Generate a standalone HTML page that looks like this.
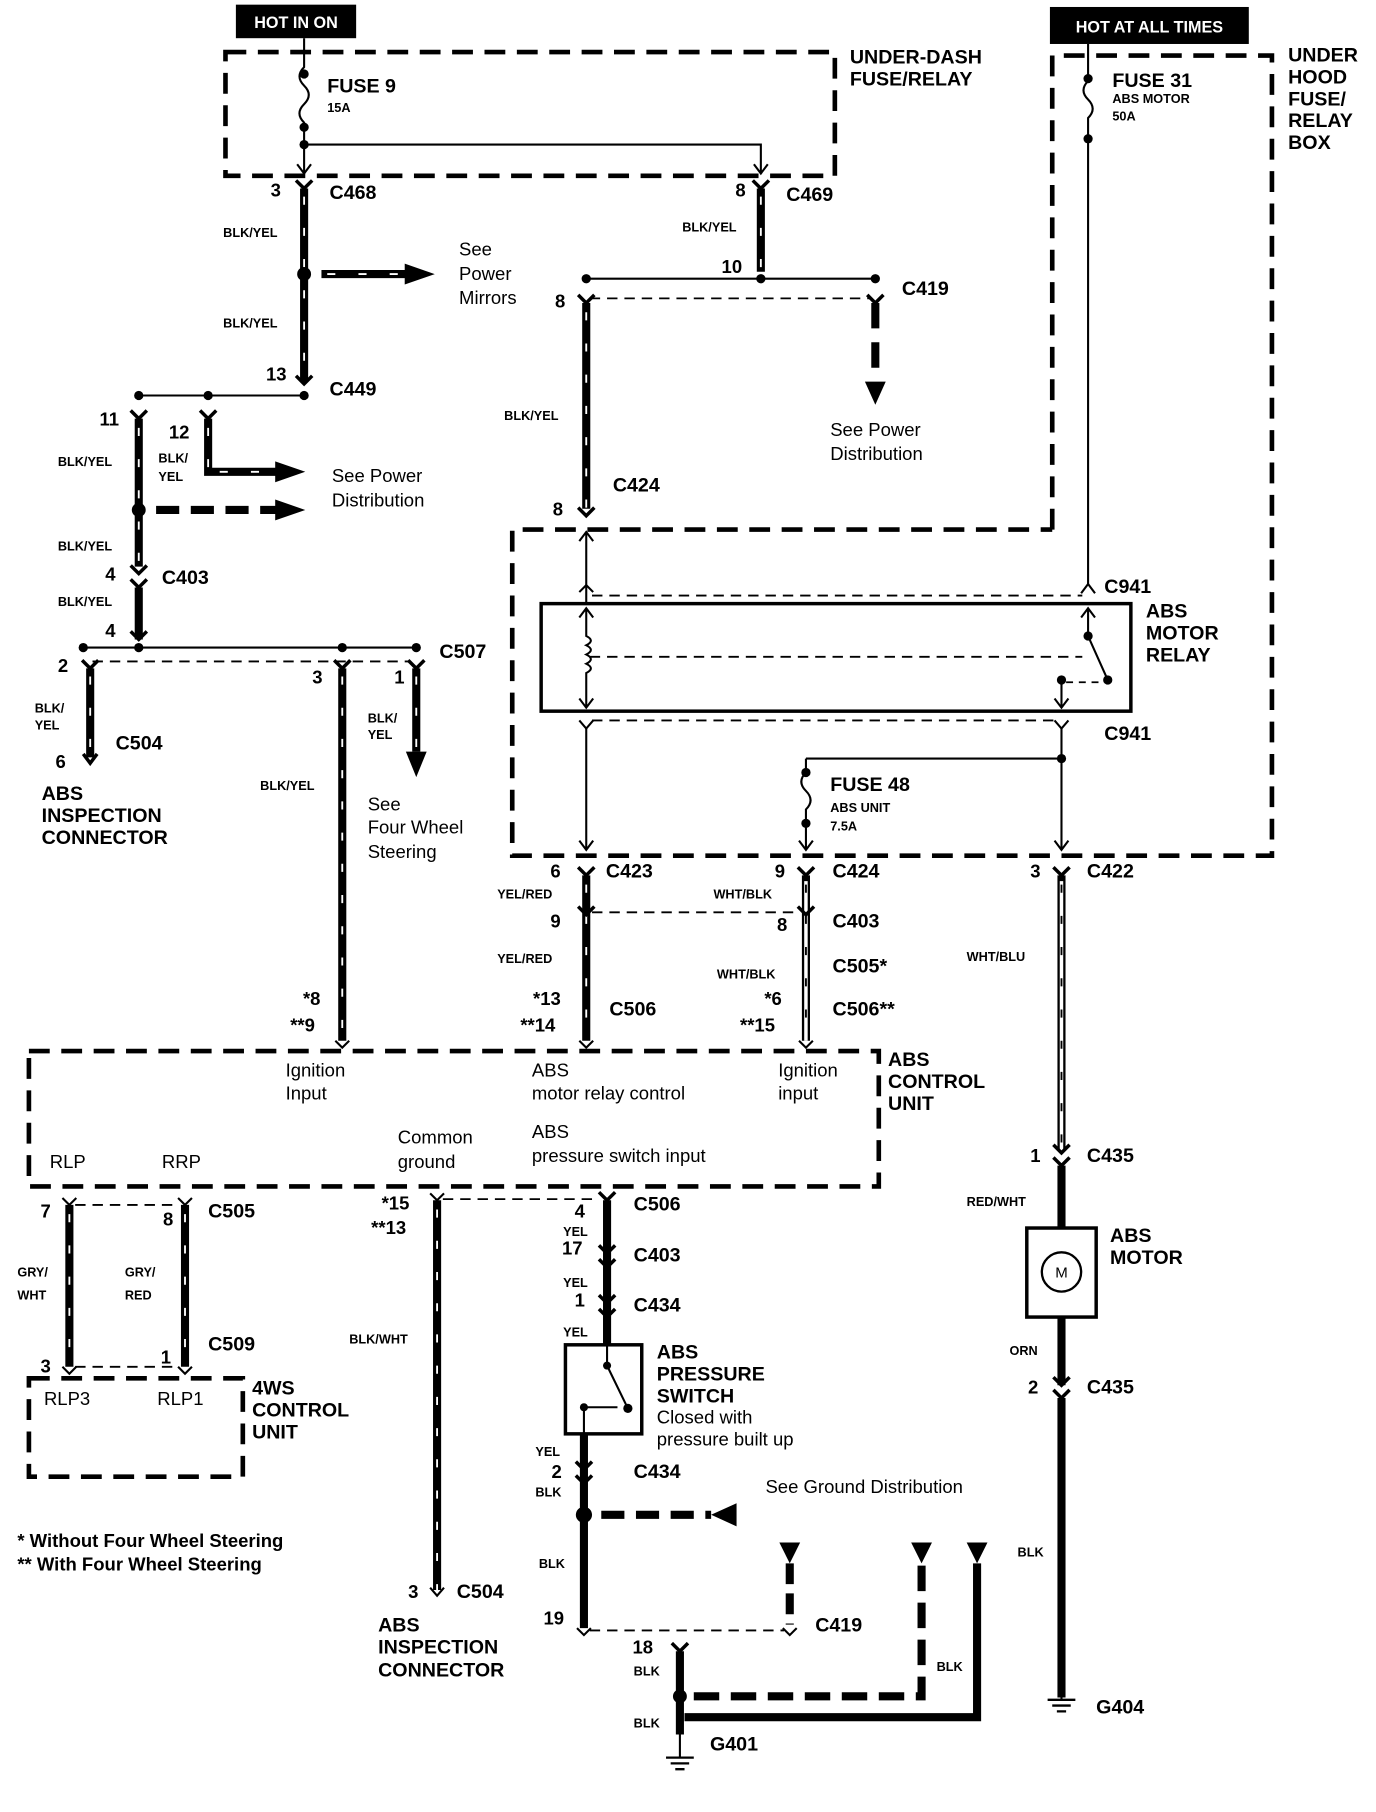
<!DOCTYPE html>
<html><head><meta charset="utf-8"><style>
html,body{margin:0;padding:0;background:#fff}
svg{display:block}
text{font-family:"Liberation Sans",Arial,sans-serif;fill:#000}
.b{font-weight:bold;font-size:17px}
.s{font-weight:bold;font-size:11px}
.n{font-size:16px}
.w{stroke:#000;stroke-width:7;fill:none}
.tr{stroke:#fff;stroke-width:1.6;stroke-dasharray:7 20;fill:none}
.o{stroke:#000;stroke-width:7;fill:none}
.oi{stroke:#fff;stroke-width:3;fill:none}
.t{stroke:#000;stroke-width:1.8;fill:none}
.td{stroke:#000;stroke-width:1.6;fill:none;stroke-dasharray:9 6}
.bx{stroke:#000;stroke-width:4;fill:none;stroke-dasharray:18 10}
.wd{stroke:#000;stroke-width:7;fill:none;stroke-dasharray:22 12}
</style></head><body>
<svg width="1376" height="1812" viewBox="0 0 1190 1567" xmlns="http://www.w3.org/2000/svg">
<defs>
<g id="cy"><path d="M-7 -7 L0 0 L7 -7" stroke="#000" stroke-width="3" fill="none"/></g>
</defs>
<rect x="204" y="4" width="104" height="29" fill="#000"/>
<text x="256" y="24" text-anchor="middle" style="fill:#fff;font-weight:bold;font-size:14px">HOT IN ON</text>
<rect x="908" y="6" width="172" height="32" fill="#000"/>
<text x="994" y="28" text-anchor="middle" style="fill:#fff;font-weight:bold;font-size:14px">HOT AT ALL TIMES</text>

<rect x="195" y="45" width="527" height="107" class="bx"/>
<text x="735" y="55" class="b">UNDER-DASH</text>
<text x="735" y="74" class="b">FUSE/RELAY</text>
<path class="t" d="M263 33 V58 q-8 8 0 16 q8 8 0 16 q-8 8 0 16 V150"/>
<circle cx="263" cy="64" r="4"/><circle cx="263" cy="110" r="4"/><circle cx="263" cy="125" r="4"/>
<path class="t" d="M257 142 L263 150 L269 142"/>
<text x="283" y="80" class="b">FUSE  9</text><text x="283" y="97" class="s">15A</text>
<path class="t" d="M263 125 H658 V150 M652 142 L658 150 L664 142"/>

<text x="234" y="170" class="n" font-weight="bold">3</text><text x="285" y="172" class="b">C468</text>
<use href="#cy" x="263" y="163"/>
<path class="w" d="M263 163 V330"/><path class="tr" d="M263 170 V330"/>
<text x="193" y="205" class="s">BLK/YEL</text><text x="193" y="283" class="s">BLK/YEL</text>
<circle cx="263" cy="237" r="6"/>
<path class="w" d="M278 237 H352"/><path class="tr" d="M283 237 H350"/><path d="M350 228 L376 237 L350 246Z"/>
<text x="397" y="221" class="n">See</text><text x="397" y="242" class="n">Power</text><text x="397" y="263" class="n">Mirrors</text>

<text x="636" y="170" class="n" font-weight="bold">8</text><text x="680" y="174" class="b">C469</text>
<use href="#cy" x="658" y="163"/>
<path class="w" d="M658 163 V235"/><path class="tr" d="M658 170 V235"/>
<text x="590" y="200" class="s">BLK/YEL</text>
<text x="624" y="236" class="n" font-weight="bold">10</text>
<path class="t" d="M507 241 H757"/><circle cx="507" cy="241" r="4"/><circle cx="757" cy="241" r="4"/><circle cx="658" cy="241" r="4"/>
<text x="780" y="255" class="b">C419</text>
<text x="480" y="266" class="n" font-weight="bold">8</text>
<use href="#cy" x="507" y="262"/><use href="#cy" x="757" y="262"/>
<path class="td" d="M510 258 H752"/>
<path class="wd" d="M757 262 V330"/><path d="M748 330 L757 350 L766 330Z"/>
<text x="718" y="377" class="n">See Power</text><text x="718" y="398" class="n">Distribution</text>
<path class="w" d="M507 262 V440"/><path class="tr" d="M507 270 V440"/>
<text x="436" y="363" class="s">BLK/YEL</text>
<text x="530" y="425" class="b">C424</text>
<text x="478" y="446" class="n" font-weight="bold">8</text>
<use href="#cy" x="507" y="446"/>

<text x="230" y="329" class="n" font-weight="bold">13</text><text x="285" y="342" class="b">C449</text>
<use href="#cy" x="263" y="332"/>
<path class="t" d="M120 342 H263"/><circle cx="120" cy="342" r="4"/><circle cx="180" cy="342" r="4"/><circle cx="263" cy="342" r="4"/>
<text x="86" y="368" class="n" font-weight="bold">11</text><text x="146" y="379" class="n" font-weight="bold">12</text>
<use href="#cy" x="120" y="362"/><use href="#cy" x="180" y="362"/>
<path class="w" d="M120 362 V490"/><path class="tr" d="M120 370 V490"/>
<path class="w" d="M180 362 V408 H240"/><path class="tr" d="M180 370 V405 M190 408 H240"/><path d="M238 399 L264 408 L238 417Z"/>
<text x="50" y="403" class="s">BLK/YEL</text><text x="137" y="400" class="s">BLK/</text><text x="137" y="416" class="s">YEL</text>
<circle cx="120" cy="441" r="6"/>
<path class="wd" d="M135 441 H240" style="stroke-dasharray:20 10"/><path d="M238 432 L264 441 L238 450Z"/>
<text x="287" y="417" class="n">See Power</text><text x="287" y="438" class="n">Distribution</text>
<text x="50" y="476" class="s">BLK/YEL</text>
<text x="91" y="502" class="n" font-weight="bold">4</text><text x="140" y="505" class="b">C403</text>
<use href="#cy" x="120" y="496"/><use href="#cy" x="120" y="508"/>
<path class="w" d="M120 508 V553"/>
<text x="50" y="524" class="s">BLK/YEL</text>
<text x="91" y="551" class="n" font-weight="bold">4</text>
<use href="#cy" x="120" y="553"/>
<path class="t" d="M72 560 H360"/>
<circle cx="72" cy="560" r="4"/><circle cx="120" cy="560" r="4"/><circle cx="296" cy="560" r="4"/><circle cx="360" cy="560" r="4"/>
<text x="380" y="569" class="b">C507</text>
<path class="td" d="M80 572 H355"/>
<text x="50" y="581" class="n" font-weight="bold">2</text>
<use href="#cy" x="78" y="578"/><use href="#cy" x="296" y="578"/><use href="#cy" x="360" y="578"/>
<path class="w" d="M78 578 V655"/><path class="tr" d="M78 585 V655"/>
<text x="30" y="616" class="s">BLK/</text><text x="30" y="631" class="s">YEL</text>
<text x="100" y="648" class="b">C504</text>
<text x="48" y="664" class="n" font-weight="bold">6</text>
<path d="M72 652 L78 660 L84 652" stroke="#000" stroke-width="3" fill="none"/>
<text x="36" y="692" class="b">ABS</text><text x="36" y="711" class="b">INSPECTION</text><text x="36" y="730" class="b">CONNECTOR</text>
<text x="270" y="591" class="n" font-weight="bold">3</text>
<path class="w" d="M296 578 V900"/><path class="tr" d="M296 585 V900"/>
<text x="225" y="683" class="s">BLK/YEL</text>
<text x="341" y="591" class="n" font-weight="bold">1</text>
<path class="w" d="M360 578 V650"/><path class="tr" d="M360 585 V650"/><path d="M351 650 L360 672 L369 650Z"/>
<text x="318" y="625" class="s">BLK/</text><text x="318" y="639" class="s">YEL</text>
<text x="318" y="701" class="n">See</text><text x="318" y="721" class="n">Four Wheel</text><text x="318" y="742" class="n">Steering</text>

<path class="bx" d="M910 458 V48 H1100 V740 H443 V458 H910"/>
<text x="1114" y="53" class="b">UNDER</text><text x="1114" y="72" class="b">HOOD</text><text x="1114" y="91" class="b">FUSE/</text><text x="1114" y="110" class="b">RELAY</text><text x="1114" y="129" class="b">BOX</text>
<path class="t" d="M941 38 V70 q-8 8 0 16 q8 8 0 16 V505"/>
<circle cx="941" cy="68" r="4"/><circle cx="941" cy="120" r="4"/>
<text x="962" y="75" class="b">FUSE 31</text><text x="962" y="89" class="s">ABS MOTOR</text><text x="962" y="104" class="s">50A</text>
<path class="t" d="M935 513 L941 505 L947 513"/>
<text x="955" y="513" class="b">C941</text>
<path class="t" d="M507 460 V523 M501 468 L507 460 L513 468"/>
<path class="td" d="M512 515 H936"/>
<path class="t" d="M501 512 L507 506 L513 512"/>
<rect x="468" y="522" width="510" height="93" fill="none" stroke="#000" stroke-width="3"/>
<text x="991" y="534" class="b">ABS</text><text x="991" y="553" class="b">MOTOR</text><text x="991" y="572" class="b">RELAY</text>
<path class="t" d="M507 526 V550 q8 4 0 8 q8 4 0 8 q8 4 0 8 q8 4 0 8 V612 M501 534 L507 526 L513 534 M501 604 L507 612 L513 604"/>
<path class="td" d="M510 568 H936"/>
<path class="t" d="M941 526 V550 L958 588 M935 534 L941 526 L947 534"/>
<circle cx="941" cy="550" r="4"/><circle cx="958" cy="588" r="4"/><circle cx="918" cy="588" r="4"/>
<path class="td" d="M922 590 H952" style="stroke-dasharray:6 5"/>
<path class="t" d="M918 588 V612 M912 604 L918 612 L924 604"/>
<path class="t" d="M501 623 L507 630 L513 623 M912 623 L918 630 L924 623"/>
<path class="td" d="M512 623 H912"/>
<text x="955" y="640" class="b">C941</text>
<path class="t" d="M507 630 V735 M501 727 L507 735 L513 727"/>
<path class="t" d="M918 630 V735 M912 727 L918 735 L924 727"/>
<circle cx="918" cy="656" r="4"/>
<path class="t" d="M697 656 H918 M697 656 V668 q-8 8 0 16 q8 8 0 16 V735 M691 727 L697 735 L703 727"/>
<circle cx="697" cy="668" r="4"/><circle cx="697" cy="712" r="4"/>
<text x="718" y="684" class="b">FUSE 48</text><text x="718" y="702" class="s">ABS UNIT</text><text x="718" y="718" class="s">7.5A</text>

<text x="476" y="759" class="n" font-weight="bold">6</text><text x="524" y="759" class="b">C423</text>
<text x="670" y="759" class="n" font-weight="bold">9</text><text x="720" y="759" class="b">C424</text>
<text x="891" y="759" class="n" font-weight="bold">3</text><text x="940" y="759" class="b">C422</text>
<use href="#cy" x="507" y="757"/><use href="#cy" x="697" y="757"/><use href="#cy" x="918" y="757"/>
<path class="w" d="M507 757 V900"/><path class="tr" d="M507 765 V900"/>
<path class="o" d="M697 757 V900"/><path class="oi" d="M697 762 V900"/><path class="tr" d="M697 765 V900" style="stroke:#000"/>
<path class="o" d="M918 757 V995"/><path class="oi" d="M918 762 V995"/><path class="tr" d="M918 765 V995" style="stroke:#000"/>
<text x="430" y="777" class="s">YEL/RED</text><text x="617" y="777" class="s">WHT/BLK</text>
<text x="476" y="802" class="n" font-weight="bold">9</text><text x="672" y="805" class="n" font-weight="bold">8</text>
<use href="#cy" x="507" y="791"/><use href="#cy" x="697" y="791"/>
<path class="td" d="M512 789 H692"/>
<text x="720" y="802" class="b">C403</text>
<text x="430" y="833" class="s">YEL/RED</text><text x="620" y="846" class="s">WHT/BLK</text>
<text x="720" y="841" class="b">C505*</text>
<text x="836" y="831" class="s">WHT/BLU</text>
<text x="461" y="869" class="n" font-weight="bold">*13</text><text x="527" y="878" class="b">C506</text>
<text x="661" y="869" class="n" font-weight="bold">*6</text><text x="720" y="878" class="b">C506**</text>
<text x="450" y="892" class="n" font-weight="bold">**14</text><text x="640" y="892" class="n" font-weight="bold">**15</text>
<text x="262" y="869" class="n" font-weight="bold">*8</text><text x="251" y="892" class="n" font-weight="bold">**9</text>
<path class="t" d="M290 900 L296 906 L302 900 M501 900 L507 906 L513 900 M691 900 L697 906 L703 900"/>

<rect x="25" y="909" width="735" height="117" class="bx"/>
<text x="247" y="931" class="n">Ignition</text><text x="247" y="951" class="n">Input</text>
<text x="460" y="931" class="n">ABS</text><text x="460" y="951" class="n">motor relay control</text>
<text x="673" y="931" class="n">Ignition</text><text x="673" y="951" class="n">input</text>
<text x="768" y="922" class="b">ABS</text><text x="768" y="941" class="b">CONTROL</text><text x="768" y="960" class="b">UNIT</text>
<text x="344" y="989" class="n">Common</text><text x="344" y="1010" class="n">ground</text>
<text x="460" y="984" class="n">ABS</text><text x="460" y="1005" class="n">pressure switch input</text>
<text x="43" y="1010" class="n">RLP</text><text x="140" y="1010" class="n">RRP</text>

<text x="35" y="1053" class="n" font-weight="bold">7</text><text x="141" y="1060" class="n" font-weight="bold">8</text>
<text x="180" y="1053" class="b">C505</text>
<path class="t" d="M54 1036 L60 1042 L66 1036 M154 1036 L160 1042 L166 1036"/>
<path class="td" d="M65 1042 H155"/>
<path class="w" d="M60 1042 V1182"/><path class="tr" d="M60 1050 V1182"/>
<path class="w" d="M160 1042 V1182"/><path class="tr" d="M160 1050 V1182"/>
<text x="15" y="1104" class="s">GRY/</text><text x="15" y="1124" class="s">WHT</text>
<text x="108" y="1104" class="s">GRY/</text><text x="108" y="1124" class="s">RED</text>
<text x="35" y="1187" class="n" font-weight="bold">3</text><text x="139" y="1179" class="n" font-weight="bold">1</text>
<text x="180" y="1168" class="b">C509</text>
<path class="td" d="M65 1182 H155"/>
<path class="t" d="M54 1182 L60 1188 L66 1182 M154 1182 L160 1188 L166 1182"/>
<rect x="25" y="1192" width="185" height="85" class="bx"/>
<text x="38" y="1215" class="n">RLP3</text><text x="136" y="1215" class="n">RLP1</text>
<text x="218" y="1206" class="b">4WS</text><text x="218" y="1225" class="b">CONTROL</text><text x="218" y="1244" class="b">UNIT</text>
<text x="15" y="1338" class="b" style="font-size:16px">*   Without Four Wheel Steering</text>
<text x="15" y="1358" class="b" style="font-size:16px">** With Four Wheel Steering</text>

<text x="330" y="1046" class="n" font-weight="bold">*15</text><text x="321" y="1067" class="n" font-weight="bold">**13</text>
<path class="t" d="M372 1032 L378 1038 L384 1032"/>
<path class="td" d="M383 1037 H518"/>
<path class="w" d="M378 1038 V1375"/><path class="tr" d="M378 1046 V1375"/>
<text x="302" y="1162" class="s">BLK/WHT</text>
<text x="353" y="1382" class="n" font-weight="bold">3</text><text x="395" y="1382" class="b">C504</text>
<path class="t" d="M372 1373 L378 1380 L384 1373"/>
<text x="327" y="1411" class="b">ABS</text><text x="327" y="1430" class="b">INSPECTION</text><text x="327" y="1450" class="b">CONNECTOR</text>

<!-- pressure switch column -->
<use href="#cy" x="525" y="1038"/>
<path class="w" d="M525 1038 V1163"/>
<text x="497" y="1053" class="n" font-weight="bold">4</text><text x="548" y="1047" class="b">C506</text>
<text x="487" y="1069" class="s">YEL</text>
<text x="486" y="1085" class="n" font-weight="bold">17</text><text x="548" y="1091" class="b">C403</text>
<use href="#cy" x="525" y="1084"/><use href="#cy" x="525" y="1096"/>
<text x="487" y="1113" class="s">YEL</text>
<text x="497" y="1130" class="n" font-weight="bold">1</text><text x="548" y="1134" class="b">C434</text>
<use href="#cy" x="525" y="1127"/><use href="#cy" x="525" y="1139"/>
<text x="487" y="1156" class="s">YEL</text>
<rect x="489" y="1163" width="66" height="77" fill="none" stroke="#000" stroke-width="3"/>
<path class="t" d="M525 1163 V1181 L543 1218 M505 1240 V1217 H534"/>
<circle cx="525" cy="1181" r="3.5"/><circle cx="543" cy="1218" r="4"/><circle cx="505" cy="1217" r="3.5"/>
<text x="568" y="1175" class="b">ABS</text><text x="568" y="1194" class="b">PRESSURE</text><text x="568" y="1213" class="b">SWITCH</text>
<text x="568" y="1231" class="n">Closed with</text><text x="568" y="1250" class="n">pressure built up</text>
<path class="w" d="M505 1240 V1408"/>
<text x="463" y="1259" class="s">YEL</text>
<text x="477" y="1278" class="n" font-weight="bold">2</text><text x="548" y="1278" class="b">C434</text>
<use href="#cy" x="505" y="1271"/><use href="#cy" x="505" y="1283"/>
<text x="463" y="1294" class="s">BLK</text>
<circle cx="505" cy="1310" r="7"/>
<path class="wd" d="M520 1310 H615" style="stroke-dasharray:20 10"/><path d="M637 1300 L615 1310 L637 1320Z"/>
<text x="662" y="1291" class="n">See Ground Distribution</text>
<text x="466" y="1356" class="s">BLK</text>
<text x="470" y="1405" class="n" font-weight="bold">19</text>
<path class="t" d="M499 1408 L505 1414 L511 1408 M677 1408 L683 1414 L689 1408"/>
<path class="td" d="M510 1410 H678"/>
<text x="705" y="1411" class="b">C419</text>
<path class="wd" d="M683 1352 V1405" style="stroke-dasharray:18 8"/><path d="M674 1334 L692 1334 L683 1352Z"/>
<text x="547" y="1430" class="n" font-weight="bold">18</text>
<use href="#cy" x="588" y="1428"/>
<path class="w" d="M588 1428 V1500"/>
<text x="548" y="1449" class="s">BLK</text>
<circle cx="588" cy="1467" r="6"/>
<path class="wd" d="M600 1467 H797 V1352" style="stroke-dasharray:22 10"/><path d="M788 1334 L806 1334 L797 1352Z"/>
<text x="810" y="1445" class="s">BLK</text>
<path class="w" d="M845 1352 V1485 H592"/><path d="M836 1334 L854 1334 L845 1352Z"/>
<text x="548" y="1494" class="s">BLK</text>
<path class="t" d="M588 1500 V1520"/>
<path d="M576 1520 H600 M580 1525 H596 M584 1530 H592" stroke="#000" stroke-width="2"/>
<text x="614" y="1514" class="b">G401</text>

<text x="891" y="1005" class="n" font-weight="bold">1</text><text x="940" y="1005" class="b">C435</text>
<use href="#cy" x="918" y="997"/><use href="#cy" x="918" y="1008"/>
<path class="w" d="M918 1008 V1062"/>
<text x="836" y="1043" class="s">RED/WHT</text>
<rect x="888" y="1062" width="60" height="77" fill="none" stroke="#000" stroke-width="3"/>
<circle cx="918" cy="1100" r="17" fill="none" stroke="#000" stroke-width="2"/>
<text x="918" y="1105" text-anchor="middle" style="font-size:13px">M</text>
<text x="960" y="1074" class="b">ABS</text><text x="960" y="1093" class="b">MOTOR</text>
<path class="w" d="M918 1139 V1198"/>
<text x="873" y="1172" class="s">ORN</text>
<text x="889" y="1205" class="n" font-weight="bold">2</text><text x="940" y="1205" class="b">C435</text>
<use href="#cy" x="918" y="1198"/><use href="#cy" x="918" y="1209"/>
<path class="w" d="M918 1209 V1468"/>
<text x="880" y="1346" class="s">BLK</text>
<path d="M906 1470 H930 M910 1475 H926 M914 1480 H922" stroke="#000" stroke-width="2"/>
<path class="t" d="M918 1466 V1470"/>
<text x="948" y="1482" class="b">G404</text>
</svg>
</body></html>
